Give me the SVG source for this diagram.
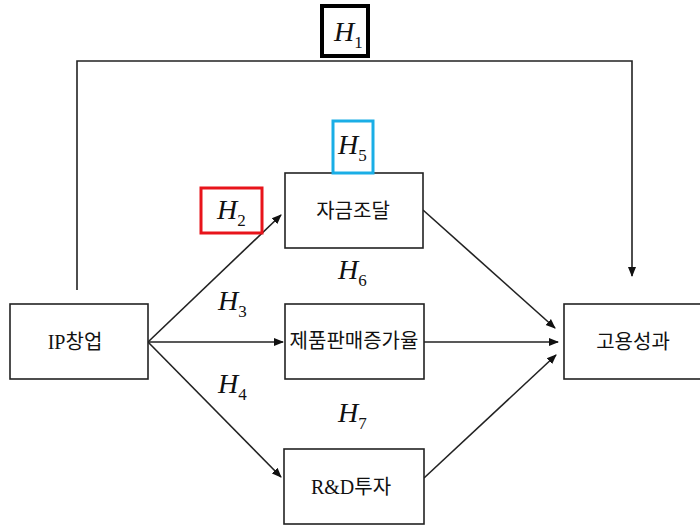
<svg xmlns="http://www.w3.org/2000/svg" width="700" height="526" viewBox="0 0 700 526">
<style>
.box{fill:#fff;stroke:#222;stroke-width:1.6}
.ln{fill:none;stroke:#222;stroke-width:1.6}
.lbl{font-family:"Liberation Serif","Noto Sans CJK KR",serif;font-size:20px;fill:#111;text-anchor:middle}
.h{font-family:"Liberation Serif",serif;font-style:italic;font-size:28px;fill:#111}
.sub{font-style:normal;font-size:17px}
</style>
<defs>
<marker id="ah" markerWidth="10" markerHeight="10" refX="9" refY="5" orient="auto" markerUnits="userSpaceOnUse">
<path d="M0,1 L10,5 L0,9 Z" fill="#111"/>
</marker>
</defs>
<rect width="700" height="526" fill="#fff"/>
<g id="connectors">
<polyline class="ln" points="77,290 77,61 632,61 632,276" marker-end="url(#ah)"/>
<line class="ln" x1="148" y1="342" x2="281" y2="215" marker-end="url(#ah)"/>
<line class="ln" x1="148" y1="342" x2="283" y2="342" marker-end="url(#ah)"/>
<line class="ln" x1="148" y1="342" x2="281" y2="477" marker-end="url(#ah)"/>
<line class="ln" x1="423" y1="210" x2="555" y2="328" marker-end="url(#ah)"/>
<line class="ln" x1="424" y1="342" x2="558" y2="342" marker-end="url(#ah)"/>
<line class="ln" x1="424" y1="478" x2="556" y2="355" marker-end="url(#ah)"/>
</g>
<g id="n_ip"><rect class="box" x="10" y="304" width="138" height="75"/><text class="lbl" x="75" y="349" font-size="19">IP창업</text></g>
<g id="n_fund"><rect class="box" x="285" y="173" width="138" height="75"/><text class="lbl" x="353" y="218">자금조달</text></g>
<g id="n_sales"><rect class="box" x="285" y="304" width="139" height="75"/><text class="lbl" x="354" y="348" font-size="17">제품판매증가율</text></g>
<g id="n_rd"><rect class="box" x="284" y="449" width="140" height="75"/><text class="lbl" x="351" y="494" font-size="21">R&amp;D투자</text></g>
<g id="n_emp"><rect class="box" x="564" y="304" width="140" height="75"/><text class="lbl" x="633" y="349">고용성과</text></g>
<g id="h1"><rect x="322" y="6" width="46" height="50" fill="none" stroke="#000" stroke-width="4"/><text class="h" x="334" y="41">H<tspan class="sub" dy="7">1</tspan></text></g>
<g id="h5"><rect x="333" y="121" width="40" height="52" fill="none" stroke="#1aaee6" stroke-width="3"/><text class="h" x="338" y="154">H<tspan class="sub" dy="7">5</tspan></text></g>
<g id="h2"><rect x="201" y="188" width="61" height="45" fill="none" stroke="#e8141b" stroke-width="3"/><text class="h" x="217" y="219">H<tspan class="sub" dy="7">2</tspan></text></g>
<g id="h3"><text class="h" x="218" y="310">H<tspan class="sub" dy="7">3</tspan></text></g>
<g id="h4"><text class="h" x="218" y="393">H<tspan class="sub" dy="7">4</tspan></text></g>
<g id="h6"><text class="h" x="338" y="279">H<tspan class="sub" dy="7">6</tspan></text></g>
<g id="h7"><text class="h" x="338" y="422">H<tspan class="sub" dy="7">7</tspan></text></g>
</svg>
